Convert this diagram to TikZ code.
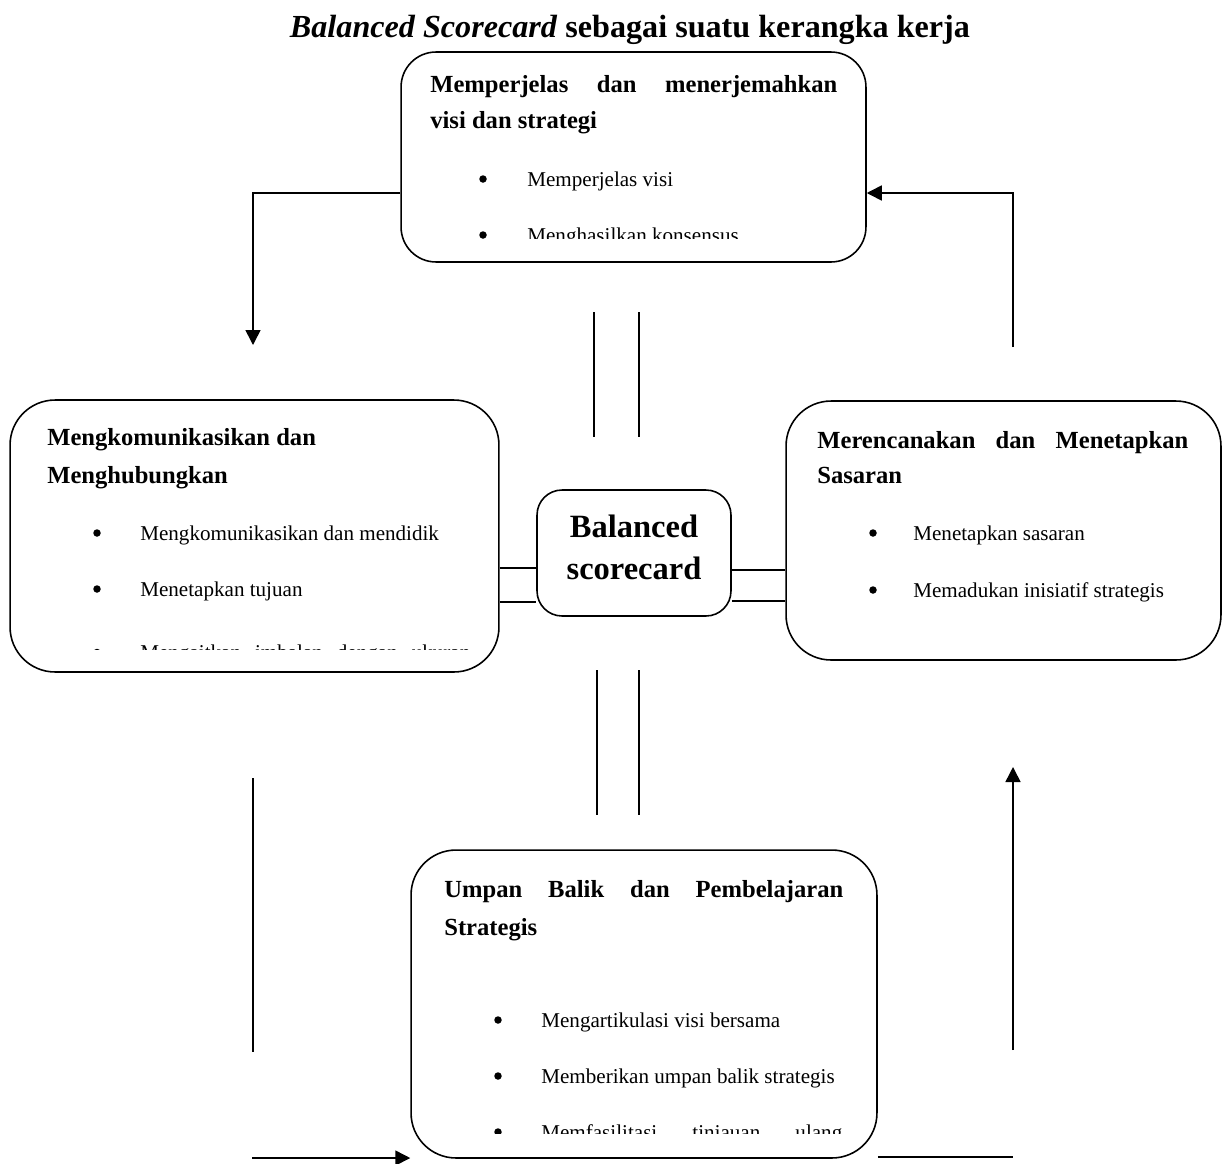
\documentclass[tikz,border=0pt]{standalone}
\usepackage{fontspec}
\setmainfont{Liberation Serif}
\usetikzlibrary{arrows.meta}
\tikzset{
  panel/.style={draw,line width=0.9pt,rounded corners=0.9cm,inner sep=0pt},
  hub/.style={draw,line width=0.9pt,rounded corners=0.5cm,minimum width=3.88cm,minimum height=2.52cm,inner sep=0pt},
  hd/.style={anchor=base west,inner sep=0pt,font=\fontsize{14}{16}\selectfont\bfseries},
  itm/.style={anchor=base west,inner sep=0pt,font=\fontsize{12}{14}\selectfont},
  dot/.style={circle,fill,inner sep=0pt,minimum size=0.15cm},
  lnk/.style={line width=0.9pt},
  arr/.style={lnk,-{Triangle[length=0.3cm,width=0.3cm]}},
}
\begin{document}
\begin{tikzpicture}[x=0.02cm,y=-0.02cm]
  \useasboundingbox (0,0) rectangle (1223,1163);
  \node[anchor=base,inner sep=0pt,font=\fontsize{18.3}{21}\selectfont\bfseries] (ttl) at (630,37)
    {\textit{Balanced Scorecard} sebagai suatu kerangka kerja};

  % the five boxes
  \node[panel,rounded corners=0.7cm,minimum width=9.3cm,minimum height=4.2cm] (vis) at (633.5,157) {};
  \node[panel,minimum width=9.78cm,minimum height=5.44cm] (kom) at (254.5,536) {};
  \node[panel,minimum width=8.7cm,minimum height=5.18cm] (sas) at (1003.5,530.5) {};
  \node[panel,minimum width=9.32cm,minimum height=6.16cm] (ump) at (644,1004) {};
  \node[hub] (bsc) at (634,553) {};
  \node[anchor=base,inner sep=0pt,font=\fontsize{18.5}{22}\selectfont\bfseries] (bs1) at (634,537) {Balanced};
  \node[anchor=base,inner sep=0pt,font=\fontsize{18.5}{22}\selectfont\bfseries] (bs2) at (634,579) {scorecard};

  % top box
  \node[hd] (vh1) at (430,92) {\makebox[8.14cm][s]{Memperjelas dan menerjemahkan}};
  \node[hd] (vh2) at (430,128) {visi dan strategi};
  \begin{scope}
    \clip (vis.north west) rectangle (vis.east |- 0,238);
    \foreach \y/\t [count=\i] in {186/Memperjelas visi,242/Menghasilkan konsensus}{
      \node[dot] (vb\i) at (483,\y-7) {};
      \node[itm] (vi\i) at (527,\y) {\t};
    }
  \end{scope}

  % left box
  \node[hd] (kh1) at (47,445) {Mengkomunikasikan dan};
  \node[hd] (kh2) at (47,483) {Menghubungkan};
  \begin{scope}
    \clip (kom.north west) rectangle (kom.east |- 0,649);
    \foreach \y/\t [count=\i] in {540/Mengkomunikasikan dan mendidik,596/Menetapkan tujuan,
        659.5/{\makebox[6.6cm][s]{Mengaitkan imbalan dengan ukuran}}}{
      \node[dot] (kb\i) at (97,\y-7) {};
      \node[itm] (ki\i) at (140,\y) {\t};
    }
  \end{scope}

  % right box
  \node[hd] (sh1) at (817,448) {\makebox[7.42cm][s]{Merencanakan dan Menetapkan}};
  \node[hd] (sh2) at (817,483) {Sasaran};
  \foreach \y/\t [count=\i] in {540/Menetapkan sasaran,597/Memadukan inisiatif strategis}{
    \node[dot] (sb\i) at (873,\y-7) {};
    \node[itm] (si\i) at (913,\y) {\t};
  }

  % bottom box
  \node[hd] (uh1) at (444,897) {\makebox[7.98cm][s]{Umpan Balik dan Pembelajaran}};
  \node[hd] (uh2) at (444,935) {Strategis};
  \begin{scope}
    \clip (ump.north west) rectangle (ump.east |- 0,1133);
    \foreach \y/\t [count=\i] in {1027/Mengartikulasi visi bersama,1083/Memberikan umpan balik strategis,
        1139/{\makebox[6.02cm][s]{Memfasilitasi tinjauan ulang}}}{
      \node[dot] (ub\i) at (498,\y-7) {};
      \node[itm] (ui\i) at (541,\y) {\t};
    }
  \end{scope}

  % double lines round the hub
  \foreach \x in {594,639} \draw[lnk] (\x,312) -- (\x,437);
  \foreach \x in {597,639} \draw[lnk] (\x,670) -- (\x,815);
  \foreach \y in {568,602} \draw[lnk] (kom.east |- 0,\y) -- (bsc.west |- 0,\y);
  \foreach \y in {570,601} \draw[lnk] (bsc.east |- 0,\y) -- (sas.west |- 0,\y);

  % the cycle
  \coordinate (c1) at (253,193);
  \draw[arr] (c1 -| vis.west) -- (c1) -- (253,345);
  \coordinate (c2) at (1013,193);
  \draw[arr] (1013,347) -- (c2) -- (c2 -| vis.east);
  \draw[lnk] (253,778) -- (253,1052);
  \coordinate (c3) at (252,1158);
  \draw[arr] (c3) -- (c3 -| ump.west);
  \draw[arr] (1013,1050) -- (1013,767);
  \coordinate (c4) at (1013,1157);
  \draw[lnk] (c4 -| ump.east) -- (c4);
\end{tikzpicture}
\end{document}
